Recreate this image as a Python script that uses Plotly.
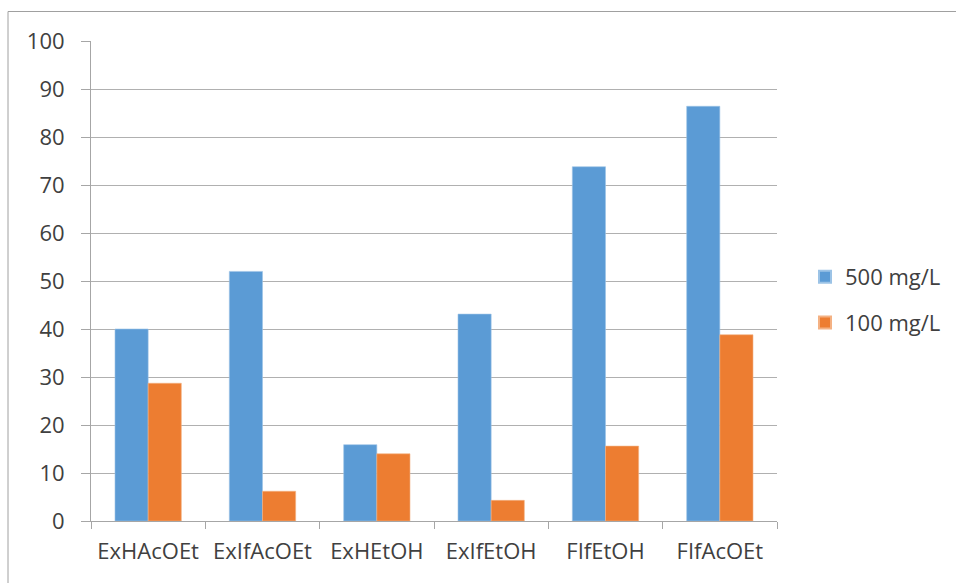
import plotly.graph_objects as go

categories = ["ExHAcOEt", "ExIfAcOEt", "ExHEtOH", "ExIfEtOH", "FIfEtOH", "FIfAcOEt"]
series_500 = [40.0, 52.0, 15.9, 43.1, 73.8, 86.4]
series_100 = [28.7, 6.2, 14.0, 4.3, 15.6, 38.8]
y_ticks = [0, 10, 20, 30, 40, 50, 60, 70, 80, 90, 100]

W, H = 956, 583
L, R, T, B = 91, 179, 41, 62
pw, ph = W - L - R, H - T - B

txt = "#404040"
font = dict(family="Open Sans, Liberation Sans, sans-serif", size=22, color=txt)

fig = go.Figure()
fig.add_trace(go.Bar(name="500 mg/L", x=categories, y=series_500, legendgroup="a",
                     marker=dict(color="#5b9bd5", line=dict(color="#9cc3e6", width=0.6))))
fig.add_trace(go.Bar(name="100 mg/L", x=categories, y=series_100, legendgroup="b",
                     marker=dict(color="#ed7d31", line=dict(color="#f4b183", width=0.6))))

fig.update_layout(
    width=W, height=H,
    margin=dict(l=L, r=R, t=T, b=B, pad=0, autoexpand=False),
    paper_bgcolor="white", plot_bgcolor="white",
    barmode="group", bargap=0.42, bargroupgap=0,
    font=font,
    showlegend=True,
    legend=dict(xref="container", yref="container",
                x=805 / W, y=1 - 256 / H, xanchor="left", yanchor="top",
                font=dict(size=22, color=txt), itemsizing="constant",
                tracegroupgap=14, bgcolor="rgba(0,0,0,0)"),
    xaxis=dict(type="category", showgrid=False, showline=True, linecolor="#a6a6a6", linewidth=1,
               ticks="outside", tickson="boundaries", ticklen=7, tickcolor="#a6a6a6",
               tickfont=dict(size=22, color=txt), ticklabelstandoff=11),
    yaxis=dict(range=[0, 100], tickvals=y_ticks, showgrid=True, gridcolor="#b0b0b0", gridwidth=1,
               showline=True, linecolor="#a6a6a6", linewidth=1, ticks="outside", ticklen=9,
               tickcolor="#a6a6a6", tickfont=dict(size=22, color=txt), zeroline=False,
               ticklabelstandoff=12),
    shapes=[dict(type="rect", xref="paper", yref="paper",
                 x0=(8 - L) / pw, x1=(W + 20 - L) / pw,
                 y0=(521 - (H + 20)) / ph, y1=(521 - 11.5) / ph,
                 line=dict(color="#a0a0a0", width=1), fillcolor="rgba(0,0,0,0)", layer="below")],
)

fig.write_html("out.html")
